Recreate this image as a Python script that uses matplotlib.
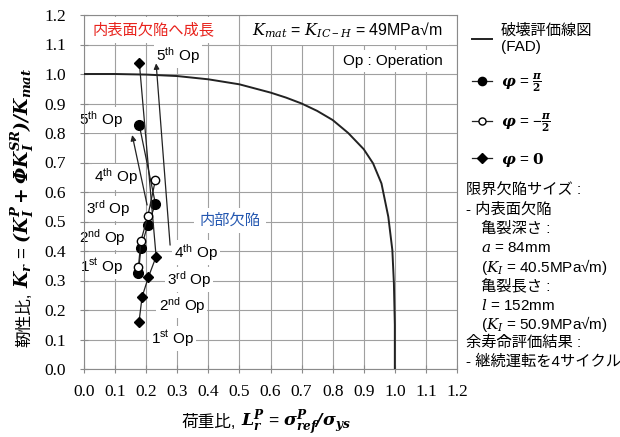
import matplotlib
matplotlib.use("Agg")
from matplotlib import pyplot as plt

# Fonts
plt.rcParams['font.family'] = ['Liberation Sans', 'Noto Sans CJK JP']
plt.rcParams['mathtext.fontset'] = 'custom'
plt.rcParams['mathtext.rm'] = 'Liberation Sans'
plt.rcParams['mathtext.it'] = 'DejaVu Serif:italic'
plt.rcParams['mathtext.bf'] = 'DejaVu Serif:bold'
plt.rcParams['mathtext.bfit'] = 'DejaVu Serif:italic:bold'
plt.rcParams['mathtext.fallback'] = 'stix'

# Data
fad_lr = [0.0, 0.1, 0.2, 0.3, 0.4, 0.5, 0.6, 0.65, 0.7, 0.75, 0.8, 0.85, 0.9, 0.93, 0.957, 0.979, 0.992, 0.997, 1.0, 1.0]
fad_kr = [1.0, 1.0, 0.998, 0.993, 0.982, 0.965, 0.937, 0.92, 0.900, 0.875, 0.844, 0.80, 0.745, 0.697, 0.629, 0.516, 0.403, 0.29, 0.15, 0.0]

pos_lr = [0.175, 0.183, 0.205, 0.230, 0.178]     # phi = pi/2
pos_kr = [0.324, 0.409, 0.488, 0.559, 0.826]
neg_lr = [0.175, 0.183, 0.205, 0.230]            # phi = -pi/2
neg_kr = [0.345, 0.434, 0.517, 0.642]
zero_lr = [0.177, 0.187, 0.207, 0.232, 0.178]    # phi = 0
zero_kr = [0.160, 0.245, 0.311, 0.381, 1.038]

# Arrows: (start, end)
arrows = [((0.277, 0.420), (0.232, 1.036)),
          ((0.203, 0.556), (0.155, 0.793))]

left_labels = ["1$^{\\mathrm{st}}$ Op", "2$^{\\mathrm{nd}}$ Op", "3$^{\\mathrm{rd}}$ Op",
               "4$^{\\mathrm{th}}$ Op", "5$^{\\mathrm{th}}$ Op"]
left_pos = [(0.058, 0.346), (0.058, 0.446), (0.077, 0.544), (0.103, 0.651), (0.055, 0.844)]
right_labels = ["1$^{\\mathrm{st}}$ Op", "2$^{\\mathrm{nd}}$ Op", "3$^{\\mathrm{rd}}$ Op",
                "4$^{\\mathrm{th}}$ Op", "5$^{\\mathrm{th}}$ Op"]
right_pos = [(0.285, 0.103), (0.315, 0.215), (0.338, 0.303), (0.360, 0.395), (0.302, 1.064)]

ticks = [i / 10 for i in range(13)]
tick_labels = ["%.1f" % t for t in ticks]

side_lines = ["限界欠陥サイズ :",
              "- 内表面欠陥",
              "亀裂深さ :",
              "$a$ = 84mm",
              "($K_I$ = 40.5MPa√m)",
              "亀裂長さ :",
              "$l$ = 152mm",
              "($K_I$ = 50.9MPa√m)",
              "余寿命評価結果 :",
              "- 継続運転を4サイクル"]
side_indent = [0, 0, 1, 1, 1, 1, 1, 1, 0, 0]

W, H = 620, 437

# Figure
fig = plt.figure(figsize=(6.2, 4.37), dpi=100)
ax = fig.add_axes([84 / W, 1 - 369 / H, 373 / W, 354 / H])

grey = '#8a8a8a'
ax.set_xlim(0, 1.2)
ax.set_ylim(0, 1.2)
ax.set_xticks(ticks)
ax.set_yticks(ticks)
ax.set_xticklabels(tick_labels, family='Liberation Serif', fontsize=12.5)
ax.set_yticklabels(tick_labels, family='Liberation Serif', fontsize=12.5)
ax.tick_params(direction='inout', length=6, color=grey)
ax.tick_params(axis='x', pad=8)
ax.tick_params(axis='y', pad=10)
ax.grid(True, color='#a0a0a0', lw=0.8)
ax.set_axisbelow(True)
for s in ax.spines.values():
    s.set_color(grey)

# Lines
fad, = ax.plot(fad_lr, fad_kr, color='#222222', lw=1.4, zorder=3)
p1, = ax.plot(pos_lr, pos_kr, color='#222222', lw=0.9, marker='o', ms=7,
              mfc='black', mec='black', zorder=4)
p2, = ax.plot(neg_lr, neg_kr, color='#222222', lw=0.9, marker='o', ms=6,
              mfc='white', mec='black', mew=1.0, zorder=5)
p3, = ax.plot(zero_lr, zero_kr, color='#222222', lw=0.9, marker='D', ms=5.5,
              mfc='black', mec='black', zorder=4)

for start, end in arrows:
    ax.annotate("", xy=end, xytext=start,
                arrowprops=dict(arrowstyle='-|>', color='#222222', lw=0.9,
                                mutation_scale=8, shrinkA=0, shrinkB=0), zorder=4)

box = dict(facecolor='white', edgecolor='none', pad=1.5)
for lab, (x, y) in zip(left_labels, left_pos):
    ax.text(x, y, lab, fontsize=11, ha='center', va='center', bbox=box, zorder=2)
for lab, (x, y) in zip(right_labels, right_pos):
    ax.text(x, y, lab, fontsize=11, ha='center', va='center', bbox=box, zorder=2)

ax.text(0.225, 1.149, "内表面欠陥へ成長", color='#e8231d', fontsize=11,
        ha='center', va='center', bbox=dict(facecolor='white', edgecolor='none', pad=4), zorder=2)
ax.text(0.471, 0.503, "内部欠陥", color='#2457b0', fontsize=11,
        ha='center', va='center', bbox=dict(facecolor='white', edgecolor='none', pad=4), zorder=2)
ax.text(1.155, 1.149, "$K_{mat}$ = $K_{IC-H}$ = 49MPa√m", fontsize=11.5,
        ha='right', va='center', bbox=dict(facecolor='white', edgecolor='none', pad=4), zorder=2)
ax.text(1.155, 1.045, "Op : Operation", fontsize=11,
        ha='right', va='center', bbox=dict(facecolor='white', edgecolor='none', pad=3), zorder=2)

# Legend
leg = ax.legend([fad, p1, p2, p3],
                ["破壊評価線図\n(FAD)",
                 "$\\mathbfit{\\varphi}$ = $\\frac{\\mathbfit{\\pi}}{\\mathbf{2}}$",
                 "$\\mathbfit{\\varphi}$ = $-\\frac{\\mathbfit{\\pi}}{\\mathbf{2}}$",
                 "$\\mathbfit{\\varphi}$ = $\\mathbf{0}$"],
                loc='upper left', bbox_to_anchor=(472 / W, 1 - 24 / H),
                bbox_transform=fig.transFigure, frameon=False, fontsize=11,
                handlelength=1.3, handletextpad=0.6, labelspacing=1.1,
                borderaxespad=0, borderpad=0, numpoints=1, markerscale=0.85)

# Side text block
y = 191
for line, ind in zip(side_lines, side_indent):
    x = 466 if ind == 0 else 481
    fig.text(x / W, 1 - y / H, line, fontsize=11, ha='left', va='center')
    y += 19

# Axis labels: CJK part and math part drawn as separate texts
xl1 = fig.text(0, 1 - 427 / H, "荷重比,", fontsize=12, ha='left', va='baseline')
xl2 = fig.text(0, 1 - 427 / H,
               "$\\mathbfit{L_r^P}$ = $\\mathbfit{\\sigma^P_{ref}/\\sigma_{ys}}$",
               fontsize=12.5, ha='left', va='baseline')
yl1 = fig.text(29 / W, 1 - 347 / H, "靭性比,", fontsize=12, rotation=90,
               rotation_mode='anchor', ha='left', va='baseline')
yl2 = fig.text(29 / W, 0, "$\\mathbfit{K_r}$ = $\\mathbfit{(K_I^P + \\Phi K_I^{SR})/K_{mat}}$",
               fontsize=13.5, rotation=90, rotation_mode='anchor', ha='left', va='baseline')

fig.canvas.draw()
r = fig.canvas.get_renderer()
w1 = xl1.get_window_extent(r).width
w2 = xl2.get_window_extent(r).width
gap = 5
x_start = 266 - (w1 + gap + w2) / 2
xl1.set_x(x_start / W)
xl2.set_x((x_start + w1 + gap) / W)
h1 = yl1.get_window_extent(r).height
yl2.set_y(1 - (347 - h1 - gap) / H)

fig.savefig("out.png", dpi=100)
